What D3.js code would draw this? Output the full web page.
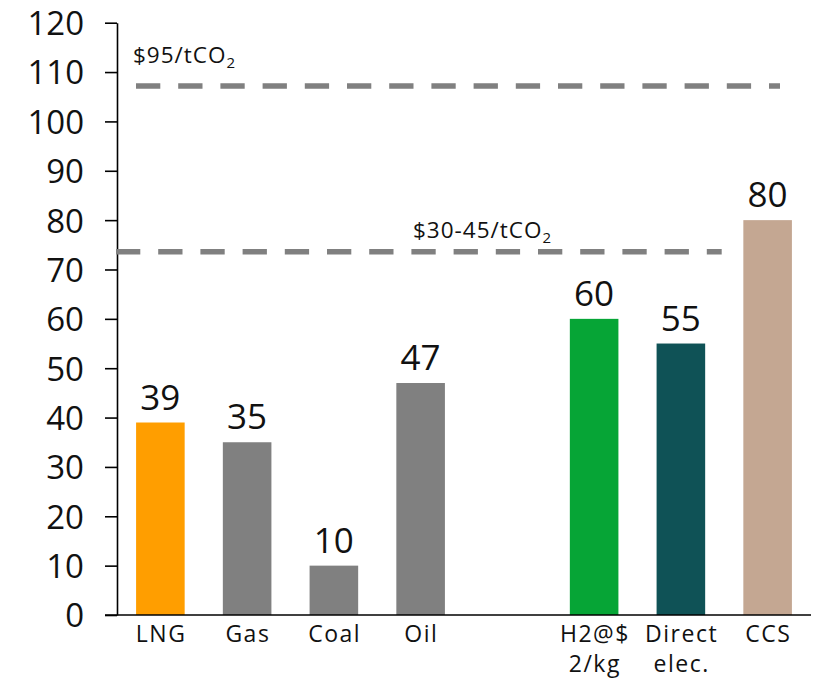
<!DOCTYPE html>
<html>
<head>
<meta charset="utf-8">
<script src="https://cdn.jsdelivr.net/npm/d3@7"></script>
<style>
  html, body { margin: 0; padding: 0; background: #fff; }
  svg { display: block; }
  text { font-family: "Open Sans", sans-serif; fill: #111; }
</style>
</head>
<body>
<svg id="chart" width="815" height="678"></svg>
<script>
// ---- data ----
const categories = ["LNG", "Gas", "Coal", "Oil", "gap", "H2@$ 2/kg", "Direct elec.", "CCS"];
const categoryLines = [["LNG"], ["Gas"], ["Coal"], ["Oil"], [], ["H2@$", "2/kg"], ["Direct", "elec."], ["CCS"]];
const values = [39, 35, 10, 47, null, 60, 55, 80];
const barColors = ["#FF9E00", "#808080", "#808080", "#808080", null, "#06A536", "#0F5256", "#C4A792"];
const yTicks = [0, 10, 20, 30, 40, 50, 60, 70, 80, 90, 100, 110, 120];
const refValues = [107.2, 73.6];
const refLabels = ["$95/tCO", "$30-45/tCO"];
const refSub = ["2", "2"];

// ---- layout ----
const svg = d3.select("#chart");
const x = d3.scaleBand().domain(categories).range([117, 811]).paddingInner(0.44).paddingOuter(0.22);
const y = d3.scaleLinear().domain([0, 120]).range([615, 22.7]);

// y axis
const yAxis = d3.axisLeft(y).tickValues(yTicks).tickSize(12).tickSizeOuter(0).tickPadding(21);
const gy = svg.append("g").attr("transform", `translate(${x.range()[0]},0)`).call(yAxis);
gy.select(".domain").attr("stroke", "#000").attr("stroke-width", 1.6);
gy.selectAll(".tick line").attr("stroke", "#000").attr("stroke-width", 1.6);
gy.selectAll(".tick text").attr("font-size", 33).attr("font-family", "Open Sans, sans-serif").attr("fill", "#111").attr("dy", "0.36em");

// bars
const barData = categories.map((c, i) => ({ c, v: values[i], color: barColors[i], lines: categoryLines[i] }));
svg.append("g").selectAll("rect")
  .data(barData.filter(d => d.v != null))
  .join("rect")
  .attr("x", d => x(d.c))
  .attr("width", x.bandwidth())
  .attr("y", d => y(d.v))
  .attr("height", d => y(0) - y(d.v))
  .attr("fill", d => d.color);

// value labels
svg.append("g").selectAll("text")
  .data(barData.filter(d => d.v != null))
  .join("text")
  .attr("x", d => x(d.c) + x.bandwidth() / 2)
  .attr("y", d => y(d.v) - 13)
  .attr("text-anchor", "middle")
  .attr("font-size", 35)
  .text(d => d.v);

// x axis line
svg.append("line")
  .attr("x1", x.range()[0] - 12).attr("x2", x.range()[1])
  .attr("y1", y(0)).attr("y2", y(0))
  .attr("stroke", "#000").attr("stroke-width", 1.6);

// category labels (one text element per line)
const labelLines = [];
barData.forEach(d => d.lines.forEach((l, i) => labelLines.push({ l, i, cx: x(d.c) + x.bandwidth() / 2 })));
svg.append("g").selectAll("text")
  .data(labelLines)
  .join("text")
  .attr("text-anchor", "middle")
  .attr("font-size", 23)
  .attr("letter-spacing", 1.5)
  .attr("x", d => d.cx + 0.75)
  .attr("y", d => y(0) + 27 + d.i * 30)
  .text(d => d.l);

// reference dashed lines
const refExtents = [[136, 780], [116, 721.7]];
const refLabelPos = [[133, 63], [413, 238]];
refValues.forEach((v, i) => {
  svg.append("line")
    .attr("x1", refExtents[i][0]).attr("x2", refExtents[i][1])
    .attr("y1", y(v)).attr("y2", y(v))
    .attr("stroke", "#808080").attr("stroke-width", 5.5)
    .attr("stroke-dasharray", "24.3,17.9");
  const t = svg.append("text")
    .attr("x", refLabelPos[i][0]).attr("y", refLabelPos[i][1])
    .attr("font-size", 22.5)
    .attr("letter-spacing", 1);
  t.append("tspan").text(refLabels[i]);
  t.append("tspan").attr("font-size", 15).attr("dy", 5).text(refSub[i]);
});
</script>
</body>
</html>
